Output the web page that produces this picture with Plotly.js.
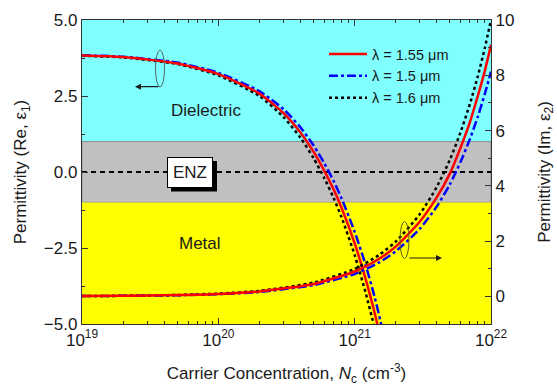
<!DOCTYPE html>
<html><head><meta charset="utf-8">
<script src="https://cdn.plot.ly/plotly-3.0.1.min.js"></script>
<style>html,body{margin:0;padding:0;background:#fff}#chart{width:557px;height:386px}</style>
</head><body><div id="chart"></div>
<script>
// Carrier concentration grid for the real part (cm^-3)
const nRe = [1e19, 2e19, 5e19, 1e20, 2e20, 3e20, 4e20, 5e20, 6e20, 7e20, 8e20, 1e21, 1.2e21, 1.4e21, 1.6e21, 1.7e21];
const re155 = [3.83, 3.78, 3.57, 3.22, 2.58, 1.94, 1.30, 0.66, 0.03, -0.57, -1.17, -2.35, -3.50, -4.63, -5.75, -6.30];
const re150 = [3.84, 3.79, 3.60, 3.26, 2.66, 2.07, 1.47, 0.87, 0.28, -0.29, -0.86, -1.97, -3.04, -4.11, -5.19, -5.75];
const re160 = [3.82, 3.77, 3.55, 3.18, 2.50, 1.81, 1.13, 0.45, -0.21, -0.85, -1.48, -2.73, -3.95, -5.13, -6.30, -6.90];

// Carrier concentration grid for the imaginary part (cm^-3)
const nIm = [1e19, 2e19, 5e19, 1e20, 2e20, 5e20, 1e21, 1.5e21, 2e21, 3e21, 4e21, 5e21, 6e21, 7e21, 8e21, 9e21, 1e22];
const im155 = [0.01, 0.02, 0.05, 0.09, 0.18, 0.45, 0.90, 1.35, 1.80, 2.70, 3.58, 4.45, 5.40, 6.30, 7.25, 8.15, 9.10];
const im150 = [0.01, 0.02, 0.04, 0.08, 0.16, 0.41, 0.81, 1.22, 1.63, 2.44, 3.25, 4.06, 4.88, 5.69, 6.50, 7.32, 8.13];
const im160 = [0.01, 0.02, 0.05, 0.10, 0.20, 0.50, 0.99, 1.49, 1.98, 2.97, 3.96, 4.95, 5.96, 6.96, 7.96, 8.98, 10.0];

const seriesNames = ['\u03bb = 1.55 \u03bcm', '\u03bb = 1.5 \u03bcm', '\u03bb = 1.6 \u03bcm'];
const xTickVals = [1e19, 1e20, 1e21, 1e22];
const xTickText = ['10<sup>19</sup>', '10<sup>20</sup>', '10<sup>21</sup>', '10<sup>22</sup>'];

const FONT = 'Liberation Sans, Arial, sans-serif';
const INK = '#1a1a1a';

// plot frame in pixels, used to place the decorations in paper units
const L = 82, R = 491, T = 20, B = 324;
const px = v => (v - L) / (R - L);
const py = v => (B - v) / (B - T);

const styles = [
  {color: '#ff0000', width: 2.5, dash: 'solid'},
  {color: '#0000ff', width: 2.5, dash: 'dashdot'},
  {color: '#000000', width: 2.5, dash: 'dot'}
];
const reSets = [re155, re150, re160];
const imSets = [im155, im150, im160];

const traces = [];
// draw black first, red last (on top)
[2, 1, 0].forEach(i => {
  traces.push({
    x: nRe, y: reSets[i], type: 'scatter', mode: 'lines', name: seriesNames[i],
    line: Object.assign({shape: 'spline', smoothing: 0.6}, styles[i]),
    legendgroup: 'g' + i, legendrank: i + 1, showlegend: true,
    xaxis: 'x', yaxis: 'y', hoverinfo: 'skip'
  });
  traces.push({
    x: nIm, y: imSets[i], type: 'scatter', mode: 'lines', name: seriesNames[i],
    line: Object.assign({shape: 'spline', smoothing: 0.6}, styles[i]),
    legendgroup: 'g' + i, showlegend: false,
    xaxis: 'x', yaxis: 'y2', hoverinfo: 'skip'
  });
});

const shapes = [
  // permittivity regimes
  {type: 'rect', xref: 'paper', yref: 'y', x0: 0, x1: 1, y0: 1, y1: 5, fillcolor: '#80ffff', line: {width: 0}, layer: 'below'},
  {type: 'rect', xref: 'paper', yref: 'y', x0: 0, x1: 1, y0: -1, y1: 1, fillcolor: '#c0c0c0', line: {color: '#8c8c8c', width: 1}, layer: 'below'},
  {type: 'rect', xref: 'paper', yref: 'y', x0: 0, x1: 1, y0: -5, y1: -1, fillcolor: '#ffff00', line: {width: 0}, layer: 'below'},
  // zero line
  {type: 'line', xref: 'paper', yref: 'y', x0: 0, x1: 1, y0: 0, y1: 0, line: {color: '#000', width: 2, dash: '5px,4px'}, layer: 'below'},
  // drop shadow of the ENZ label
  {type: 'rect', xref: 'paper', yref: 'paper', x0: px(171), x1: px(217), y0: py(191.5), y1: py(161), fillcolor: '#000', line: {width: 0}, layer: 'above'},
  // axis marker ellipses
  {type: 'circle', xref: 'paper', yref: 'paper', x0: px(155.5), x1: px(164.5), y0: py(87), y1: py(50), line: {color: '#4d6464', width: 1}, layer: 'above'},
  {type: 'circle', xref: 'paper', yref: 'paper', x0: px(400), x1: px(409), y0: py(258.5), y1: py(221.5), line: {color: '#5a5a20', width: 1}, layer: 'above'}
];

const annotations = [
  {text: 'Dielectric', xref: 'paper', yref: 'paper', x: px(206), y: py(110), xanchor: 'center', yanchor: 'middle', showarrow: false, font: {family: FONT, size: 17, color: INK}},
  {text: 'Metal', xref: 'paper', yref: 'paper', x: px(200), y: py(243), xanchor: 'center', yanchor: 'middle', showarrow: false, font: {family: FONT, size: 17, color: INK}},
  {text: 'ENZ', xref: 'paper', yref: 'paper', x: px(189.8), y: py(172.3), xanchor: 'center', yanchor: 'middle', showarrow: false,
   width: 42, height: 27, borderpad: 1, bgcolor: '#fff', bordercolor: '#000', borderwidth: 1,
   font: {family: FONT, size: 17, color: INK}},
  {text: '', xref: 'paper', yref: 'paper', x: px(135), y: py(86.7), ax: 25, ay: 0, showarrow: true, arrowhead: 2, arrowsize: 1, arrowwidth: 1.2, arrowcolor: '#1a1a1a'},
  {text: '', xref: 'paper', yref: 'paper', x: px(442), y: py(258), ax: -34, ay: 0, showarrow: true, arrowhead: 2, arrowsize: 1, arrowwidth: 1.2, arrowcolor: '#1a1a1a'}
];

const layout = {
  width: 557, height: 386,
  margin: {l: L, r: 557 - R, t: T, b: 386 - B, pad: 0},
  paper_bgcolor: '#fff', plot_bgcolor: '#fff',
  font: {family: FONT, size: 17, color: INK},
  showlegend: true,
  legend: {
    x: px(324), y: py(38), xanchor: 'left', yanchor: 'top',
    bgcolor: 'rgba(0,0,0,0)', borderwidth: 0,
    font: {family: FONT, size: 14.5, color: INK},
    itemwidth: 38, tracegroupgap: 0
  },
  xaxis: {
    type: 'log', range: [19, 22],
    tickvals: xTickVals, ticktext: xTickText,
    ticks: 'inside', ticklen: 6, tickwidth: 1, tickcolor: '#333',
    minor: {ticks: 'inside', ticklen: 3, tickcolor: '#333', dtick: 'D1', showgrid: false},
    showline: true, linecolor: '#333', linewidth: 1.2, mirror: 'ticks',
    showgrid: false, zeroline: false,
    tickfont: {family: FONT, size: 17, color: INK},
    title: {text: 'Carrier Concentration, <i>N</i><sub>c</sub> (cm<sup>-3</sup>)', font: {family: FONT, size: 17, color: INK}, standoff: 20}
  },
  yaxis: {
    range: [-5, 5], tick0: -5, dtick: 2.5, tickformat: '.1f',
    ticks: 'inside', ticklen: 6, tickwidth: 1, tickcolor: '#333',
    minor: {ticks: 'inside', ticklen: 3, tickcolor: '#333', dtick: 1.25, tick0: -5, showgrid: false},
    showline: true, linecolor: '#333', linewidth: 1.2,
    showgrid: false, zeroline: false,
    tickfont: {family: FONT, size: 17, color: INK},
    title: {text: 'Permittivity (Re, \u03b5<sub>1</sub>)', font: {family: FONT, size: 17, color: INK}, standoff: 12}
  },
  yaxis2: {
    overlaying: 'y', side: 'right', range: [-1, 10], tick0: 0, dtick: 2,
    ticks: 'inside', ticklen: 6, tickwidth: 1, tickcolor: '#333',
    minor: {ticks: 'inside', ticklen: 3, tickcolor: '#333', dtick: 1, tick0: 0, showgrid: false},
    showline: true, linecolor: '#333', linewidth: 1.2,
    showgrid: false, zeroline: false,
    tickfont: {family: FONT, size: 17, color: INK},
    title: {text: 'Permittivity (Im, \u03b5<sub>2</sub>)', font: {family: FONT, size: 17, color: INK}, standoff: 24}
  },
  shapes: shapes,
  annotations: annotations
};

Plotly.newPlot('chart', traces, layout, {staticPlot: true, displayModeBar: false});
</script>
</body></html>
